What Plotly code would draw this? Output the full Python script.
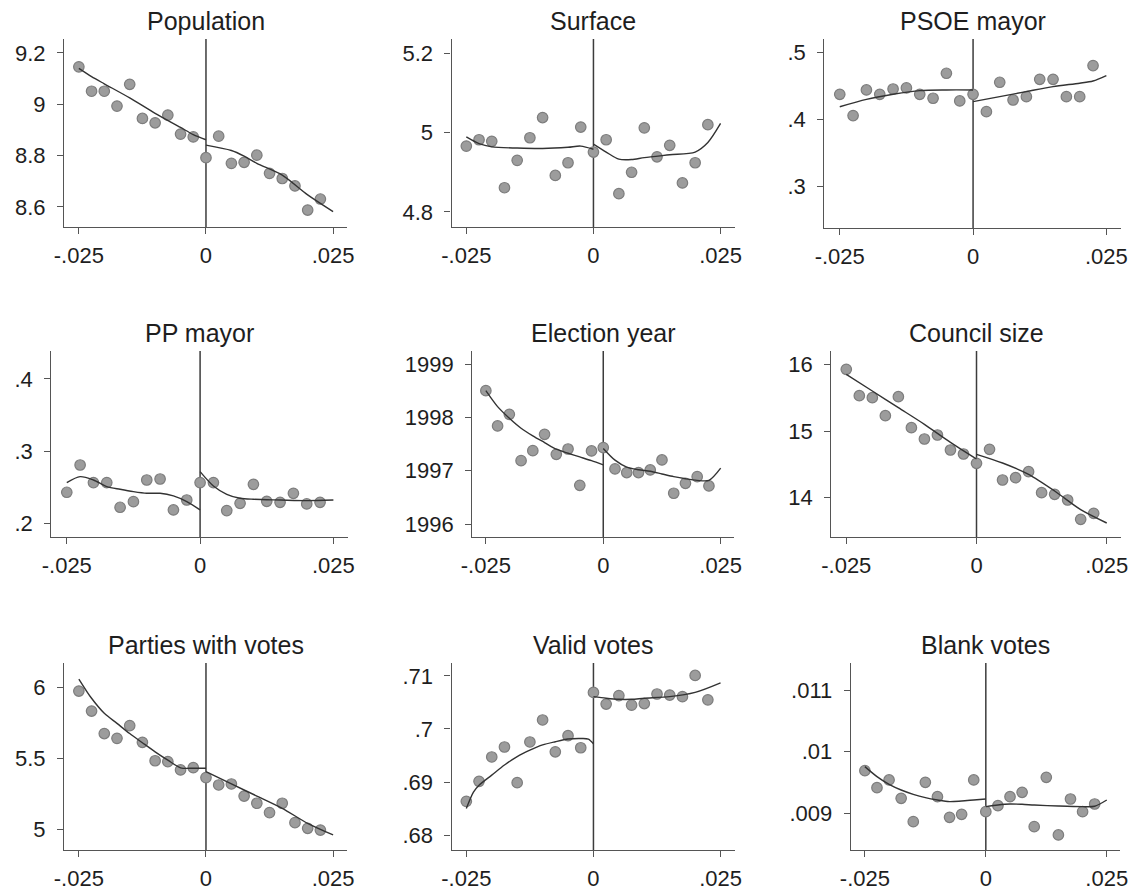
import plotly.graph_objects as go

# Bin positions (running variable), left and right of the cutoff
bins_left = [-0.025, -0.0225, -0.02, -0.0175, -0.015, -0.0125, -0.01, -0.0075, -0.005, -0.0025]
bins_right = [0.0, 0.0025, 0.005, 0.0075, 0.01, 0.0125, 0.015, 0.0175, 0.02, 0.0225]

x_ticks = [-0.025, 0.0, 0.025]
x_tick_labels = ["-.025", "0", ".025"]

# --- Population ---
pop_left = [9.146, 9.051, 9.051, 8.993, 9.078, 8.945, 8.928, 8.958, 8.884, 8.873]
pop_right = [8.792, 8.876, 8.770, 8.774, 8.802, 8.731, 8.711, 8.682, 8.588, 8.631]
pop_fit_lx = [-0.025, -0.0225, -0.02, -0.015, -0.01, -0.005, -0.0025, 0.0]
pop_fit_ly = [9.14, 9.108, 9.08, 9.025, 8.965, 8.91, 8.882, 8.862]
pop_fit_rx = [0.0, 0.005, 0.0075, 0.01, 0.015, 0.02, 0.025]
pop_fit_ry = [8.841, 8.82, 8.798, 8.77, 8.724, 8.647, 8.582]

# --- Surface ---
surf_left = [4.966, 4.982, 4.978, 4.861, 4.930, 4.987, 5.038, 4.892, 4.924, 5.014]
surf_right = [4.951, 4.982, 4.846, 4.900, 5.012, 4.939, 4.968, 4.873, 4.924, 5.020]
surf_fit_lx = [-0.025, -0.0225, -0.02, -0.015, -0.01, -0.005, -0.0025, 0.0]
surf_fit_ly = [4.989, 4.972, 4.964, 4.961, 4.960, 4.963, 4.966, 4.958]
surf_fit_rx = [0.0, 0.0025, 0.005, 0.0075, 0.01, 0.015, 0.02, 0.0225, 0.025]
surf_fit_ry = [4.971, 4.951, 4.933, 4.932, 4.937, 4.944, 4.951, 4.975, 5.023]

# --- PSOE mayor ---
psoe_left = [0.4375, 0.4058, 0.444, 0.4375, 0.4454, 0.447, 0.4375, 0.4316, 0.4688, 0.4276]
psoe_right = [0.4375, 0.4117, 0.4554, 0.429, 0.434, 0.4598, 0.4598, 0.434, 0.434, 0.4802]
psoe_fit_lx = [-0.025, -0.02, -0.015, -0.01, -0.005, 0.0]
psoe_fit_ly = [0.419, 0.430, 0.4375, 0.443, 0.444, 0.444]
psoe_fit_rx = [0.0, 0.005, 0.01, 0.015, 0.02, 0.0225, 0.025]
psoe_fit_ry = [0.4266, 0.434, 0.4415, 0.449, 0.454, 0.4573, 0.4653]

# --- PP mayor ---
pp_left = [0.2430, 0.2808, 0.2564, 0.2564, 0.2222, 0.2300, 0.2600, 0.2614, 0.2185, 0.2323]
pp_right = [0.2564, 0.2564, 0.2176, 0.2277, 0.2540, 0.2305, 0.2291, 0.2416, 0.2268, 0.2291]
pp_fit_lx = [-0.025, -0.0225, -0.02, -0.0175, -0.015, -0.0125, -0.01, -0.0075, -0.005, -0.0025, 0.0]
pp_fit_ly = [0.2564, 0.2647, 0.2600, 0.2508, 0.2471, 0.2439, 0.2416, 0.2416, 0.2379, 0.2300, 0.2185]
pp_fit_rx = [0.0, 0.0025, 0.005, 0.0075, 0.01, 0.015, 0.02, 0.025]
pp_fit_ry = [0.2716, 0.2517, 0.2402, 0.2347, 0.2333, 0.2323, 0.2314, 0.2323]

# --- Election year ---
year_left = [1998.505, 1997.842, 1998.061, 1997.19, 1997.378, 1997.685, 1997.309, 1997.409, 1996.727, 1997.372]
year_right = [1997.435, 1997.035, 1996.967, 1996.967, 1997.016, 1997.204, 1996.578, 1996.765, 1996.89, 1996.715]
year_fit_lx = [-0.025, -0.0225, -0.02, -0.0175, -0.015, -0.0125, -0.01, -0.0075, -0.005, -0.0025, 0.0]
year_fit_ly = [1998.505, 1998.205, 1997.987, 1997.80, 1997.656, 1997.53, 1997.405, 1997.33, 1997.26, 1997.19, 1997.11]
year_fit_rx = [0.0, 0.0025, 0.005, 0.0075, 0.01, 0.0125, 0.015, 0.0175, 0.02, 0.0225, 0.025]
year_fit_ry = [1997.42, 1997.20, 1997.07, 1997.02, 1996.99, 1996.94, 1996.89, 1996.85, 1996.82, 1996.82, 1997.05]

# --- Council size ---
council_left = [15.925, 15.53, 15.50, 15.23, 15.515, 15.05, 14.88, 14.94, 14.715, 14.655]
council_right = [14.515, 14.725, 14.265, 14.30, 14.39, 14.075, 14.05, 13.965, 13.675, 13.765]
council_fit_lx = [-0.025, -0.02, -0.015, -0.01, -0.005, 0.0]
council_fit_ly = [15.85, 15.60, 15.35, 15.10, 14.83, 14.58]
council_fit_rx = [0.0, 0.005, 0.01, 0.015, 0.02, 0.025]
council_fit_ry = [14.65, 14.52, 14.35, 14.10, 13.82, 13.62]

# --- Parties with votes ---
parties_left = [5.976, 5.835, 5.676, 5.642, 5.732, 5.614, 5.484, 5.478, 5.419, 5.435]
parties_right = [5.365, 5.313, 5.320, 5.235, 5.184, 5.118, 5.184, 5.047, 5.007, 4.995]
parties_fit_lx = [-0.025, -0.0225, -0.02, -0.0175, -0.015, -0.0125, -0.01, -0.0075, -0.005, -0.0025, 0.0]
parties_fit_ly = [6.061, 5.925, 5.819, 5.748, 5.676, 5.611, 5.547, 5.488, 5.434, 5.431, 5.431]
parties_fit_rx = [0.0, 0.005, 0.01, 0.015, 0.02, 0.025]
parties_fit_ry = [5.407, 5.32, 5.235, 5.148, 5.042, 4.96]

# --- Valid votes ---
valid_left = [0.68635, 0.69013, 0.69472, 0.69660, 0.68987, 0.69755, 0.70170, 0.69570, 0.69874, 0.69646]
valid_right = [0.7069, 0.7047, 0.7063, 0.7045, 0.7048, 0.7066, 0.7064, 0.7061, 0.7101, 0.7055]
valid_fit_lx = [-0.025, -0.0236, -0.0225, -0.02, -0.0175, -0.015, -0.0125, -0.01, -0.0075, -0.005, -0.0025, -0.001, 0.0]
valid_fit_ly = [0.6850, 0.6881, 0.6894, 0.6913, 0.6932, 0.6948, 0.6960, 0.6970, 0.6976, 0.6981, 0.6982, 0.6981, 0.6972]
valid_fit_rx = [0.0, 0.0025, 0.005, 0.0075, 0.01, 0.015, 0.02, 0.025]
valid_fit_ry = [0.7061, 0.7058, 0.7056, 0.7056, 0.7058, 0.7061, 0.7069, 0.7087]

# --- Blank votes ---
blank_left = [0.009692, 0.009416, 0.009541, 0.009243, 0.008865, 0.009503, 0.009270, 0.008935, 0.008984, 0.009541]
blank_right = [0.009027, 0.009124, 0.009270, 0.009341, 0.008784, 0.009584, 0.008649, 0.009232, 0.009027, 0.009151]
blank_fit_lx = [-0.025, -0.0225, -0.02, -0.0175, -0.015, -0.0125, -0.01, -0.0075, -0.005, -0.0025, 0.0]
blank_fit_ly = [0.009757, 0.009595, 0.00947, 0.009378, 0.009308, 0.009254, 0.009216, 0.009189, 0.009200, 0.009216, 0.009232]
blank_fit_rx = [0.0, 0.0025, 0.005, 0.0075, 0.01, 0.015, 0.02, 0.0225, 0.025]
blank_fit_ry = [0.009108, 0.009135, 0.009151, 0.009146, 0.009135, 0.009118, 0.009108, 0.009115, 0.009216]

titles = ["Population", "Surface", "PSOE mayor", "PP mayor", "Election year",
          "Council size", "Parties with votes", "Valid votes", "Blank votes"]

panels = [
    (pop_left, pop_right, pop_fit_lx, pop_fit_ly, pop_fit_rx, pop_fit_ry,
     [8.6, 8.8, 9.0, 9.2], ["8.6", "8.8", "9", "9.2"]),
    (surf_left, surf_right, surf_fit_lx, surf_fit_ly, surf_fit_rx, surf_fit_ry,
     [4.8, 5.0, 5.2], ["4.8", "5", "5.2"]),
    (psoe_left, psoe_right, psoe_fit_lx, psoe_fit_ly, psoe_fit_rx, psoe_fit_ry,
     [0.3, 0.4, 0.5], [".3", ".4", ".5"]),
    (pp_left, pp_right, pp_fit_lx, pp_fit_ly, pp_fit_rx, pp_fit_ry,
     [0.2, 0.3, 0.4], [".2", ".3", ".4"]),
    (year_left, year_right, year_fit_lx, year_fit_ly, year_fit_rx, year_fit_ry,
     [1996, 1997, 1998, 1999], ["1996", "1997", "1998", "1999"]),
    (council_left, council_right, council_fit_lx, council_fit_ly, council_fit_rx, council_fit_ry,
     [14, 15, 16], ["14", "15", "16"]),
    (parties_left, parties_right, parties_fit_lx, parties_fit_ly, parties_fit_rx, parties_fit_ry,
     [5.0, 5.5, 6.0], ["5", "5.5", "6"]),
    (valid_left, valid_right, valid_fit_lx, valid_fit_ly, valid_fit_rx, valid_fit_ry,
     [0.68, 0.69, 0.70, 0.71], [".68", ".69", ".7", ".71"]),
    (blank_left, blank_right, blank_fit_lx, blank_fit_ly, blank_fit_rx, blank_fit_ry,
     [0.009, 0.010, 0.011], [".009", ".01", ".011"]),
]

# Layout geometry in pixels: plot-area left/right/top/bottom, and y ranges
W, H = 1147, 893
boxes = [
    (54, 342, 39, 227), (448, 736, 39, 227), (827, 1129, 39, 228),
    (41, 343, 351, 537), (469, 735, 351, 537), (834, 1129, 351, 537),
    (54, 342, 663, 850), (448, 736, 663, 850), (854, 1128, 663, 850),
]
y_ranges = [
    [8.522, 9.2545], [4.762, 5.236], [0.2385, 0.5198],
    [0.181, 0.4388], [1995.756, 1999.25], [13.41, 16.2],
    [4.854, 6.174], [0.67717, 0.71245], [0.008405, 0.011438],
]
x_range = [-0.0279, 0.0278]

AXIS_COLOR = "#555555"
TEXT_COLOR = "#1e1e1e"
FONT = "Liberation Sans, Arial, sans-serif"
MARKER = dict(size=10.5, color="#9c9c9c", line=dict(color="#7d7d7d", width=1.2))
FIT_LINE = dict(color="#333333", width=1.4, shape="spline", smoothing=0.8)

fig = go.Figure()
layout = dict(
    width=W, height=H,
    margin=dict(l=0, r=0, t=0, b=0),
    paper_bgcolor="white", plot_bgcolor="white",
    showlegend=False,
    font=dict(family=FONT, color=TEXT_COLOR),
)
shapes = []
annotations = []

for i, (panel, title, box, yr) in enumerate(zip(panels, titles, boxes, y_ranges)):
    left, right, flx, fly, frx, fry, yt, ytl = panel
    n = "" if i == 0 else str(i + 1)
    xa, ya = "x" + n, "y" + n
    x0, x1, top, bottom = box

    fig.add_trace(go.Scatter(x=bins_left + bins_right, y=left + right, mode="markers",
                             marker=MARKER, xaxis=xa, yaxis=ya, cliponaxis=False))
    fig.add_trace(go.Scatter(x=flx, y=fly, mode="lines", line=FIT_LINE, xaxis=xa, yaxis=ya))
    fig.add_trace(go.Scatter(x=frx, y=fry, mode="lines", line=FIT_LINE, xaxis=xa, yaxis=ya))

    common = dict(showgrid=False, zeroline=False, showline=True, linecolor=AXIS_COLOR,
                  linewidth=1.3, ticks="outside", ticklen=6, tickwidth=1.2,
                  tickcolor=AXIS_COLOR, tickfont=dict(family=FONT, size=22, color=TEXT_COLOR))
    layout["xaxis" + n] = dict(common, domain=[x0 / W, x1 / W], range=x_range,
                               tickvals=x_ticks, ticktext=x_tick_labels,
                               anchor=ya, fixedrange=True, ticklabelstandoff=2)
    layout["yaxis" + n] = dict(common, domain=[1 - bottom / H, 1 - top / H], range=yr,
                               tickvals=yt, ticktext=ytl, anchor=xa, fixedrange=True,
                               ticklabelstandoff=7)

    # cutoff line at zero
    shapes.append(dict(type="line", xref=xa, yref=ya + " domain", x0=0, x1=0, y0=0, y1=1,
                       line=dict(color="#3c3c3c", width=1.5), layer="below"))
    annotations.append(dict(text=title, xref=xa + " domain", yref=ya + " domain",
                            x=0.5, y=1, xanchor="center", yanchor="middle", yshift=18,
                            showarrow=False, font=dict(family=FONT, size=25, color=TEXT_COLOR)))

layout["shapes"] = shapes
layout["annotations"] = annotations
fig.update_layout(**layout)
fig.write_html("out.html")
